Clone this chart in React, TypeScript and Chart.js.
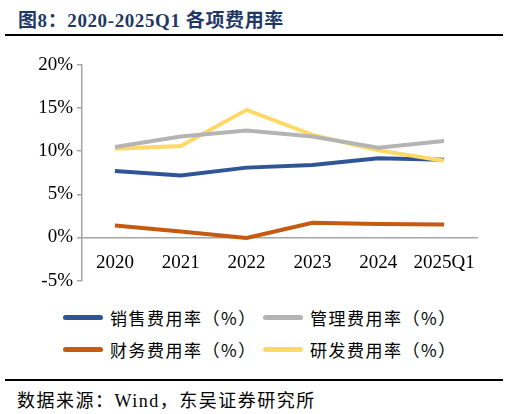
import { useEffect, useRef } from "react";
import { Chart, registerables } from "chart.js";

Chart.register(...registerables);

const categories = ["2020", "2021", "2022", "2023", "2024", "2025Q1"];
const salesRate = [7.7, 7.2, 8.1, 8.4, 9.2, 9.0];
const adminRate = [10.5, 11.7, 12.4, 11.7, 10.4, 11.2];
const financeRate = [1.4, 0.7, -0.05, 1.7, 1.55, 1.5];
const rdRate = [10.3, 10.6, 14.8, 11.9, 10.1, 8.9];
const seriesNames = ["销售费用率（%）", "管理费用率（%）", "财务费用率（%）", "研发费用率（%）"];
const seriesColors = ["#2F5597", "#B4B4B4", "#C55A11", "#FFD966"];
const yTicks = [-5, 0, 5, 10, 15, 20];

const serif = '"Liberation Serif", "Noto Sans CJK SC", serif';

export default function App() {
  const canvasRef = useRef<HTMLCanvasElement | null>(null);
  const chartRef = useRef<Chart | null>(null);

  useEffect(() => {
    document.body.style.margin = "0";
    if (!canvasRef.current) return;
    if (chartRef.current) chartRef.current.destroy();

    const values = [salesRate, adminRate, financeRate, rdRate];

    chartRef.current = new Chart(canvasRef.current, {
      type: "line",
      data: {
        labels: categories,
        datasets: values.map((data, i) => ({
          label: seriesNames[i],
          data,
          borderColor: seriesColors[i],
          backgroundColor: seriesColors[i],
          borderWidth: 4,
          pointRadius: 0,
          tension: 0,
          order: i === 0 ? 4 : i,
        })),
      },
      options: {
        animation: false,
        responsive: false,
        layout: { padding: { top: 25, right: 33, left: 0, bottom: 13 } },
        plugins: {
          tooltip: { enabled: false },
          legend: { display: false },
        },
        scales: {
          x: {
            position: { y: 0 },
            offset: true,
            grid: { display: false },
            border: { display: true, color: "#A6A6A6", width: 1.5 },
            ticks: {
              padding: 6,
              color: "#000",
              font: { family: serif, size: 19 },
              maxRotation: 0,
              autoSkip: false,
            },
          },
          y: {
            min: -5,
            max: 20,
            afterBuildTicks: (scale: any) => {
              scale.ticks = yTicks.map((v) => ({ value: v }));
            },
            afterFit: (scale: any) => {
              scale.width = 82;
            },
            grid: {
              drawOnChartArea: false,
              drawTicks: true,
              tickLength: 5,
              color: "#A6A6A6",
              lineWidth: 1.5,
            },
            border: { display: true, color: "#A6A6A6", width: 1.5 },
            ticks: {
              padding: 4,
              color: "#000",
              font: { family: serif, size: 19 },
              callback: (v: any) => `${v}%`,
            },
          },
        },
      },
    });

    return () => {
      if (chartRef.current) {
        chartRef.current.destroy();
        chartRef.current = null;
      }
    };
  }, []);

  const legendPos = [
    { left: 63, top: 317 },
    { left: 263, top: 317 },
    { left: 63, top: 349 },
    { left: 263, top: 349 },
  ];

  return (
    <div style={{ position: "relative", width: 510, height: 414, background: "#fff", overflow: "hidden" }}>
      <div
        style={{
          position: "absolute",
          left: 18,
          top: 5,
          fontFamily: serif,
          fontWeight: "bold",
          fontSize: 19,
          color: "#1F3864",
          whiteSpace: "nowrap",
          letterSpacing: 0.6,
        }}
      >
        图8：2020-2025Q1 各项费用率
      </div>
      <div style={{ position: "absolute", left: 5, top: 34, width: 498, height: 2, background: "#000" }} />
      <canvas ref={canvasRef} width={510} height={256} style={{ position: "absolute", left: 0, top: 40 }} />
      {seriesNames.map((name, i) => (
        <div
          key={name}
          style={{
            position: "absolute",
            left: legendPos[i].left,
            top: legendPos[i].top - 12,
            height: 24,
            display: "flex",
            alignItems: "center",
            whiteSpace: "nowrap",
          }}
        >
          <span
            style={{
              display: "inline-block",
              width: 40,
              height: 5,
              borderRadius: 2.5,
              background: seriesColors[i],
              marginRight: 7,
            }}
          />
          <span
            style={{
              fontFamily: '"Noto Sans CJK SC", sans-serif',
              fontSize: 17,
              letterSpacing: 1.5,
              color: "#000",
            }}
          >
            {name}
          </span>
        </div>
      ))}
      <div style={{ position: "absolute", left: 5, top: 379, width: 498, height: 1.5, background: "#000" }} />
      <div
        style={{
          position: "absolute",
          left: 17,
          top: 386,
          fontFamily: serif,
          fontSize: 18,
          letterSpacing: 1.5,
          color: "#000",
          whiteSpace: "nowrap",
        }}
      >
        数据来源：Wind，东吴证券研究所
      </div>
    </div>
  );
}
